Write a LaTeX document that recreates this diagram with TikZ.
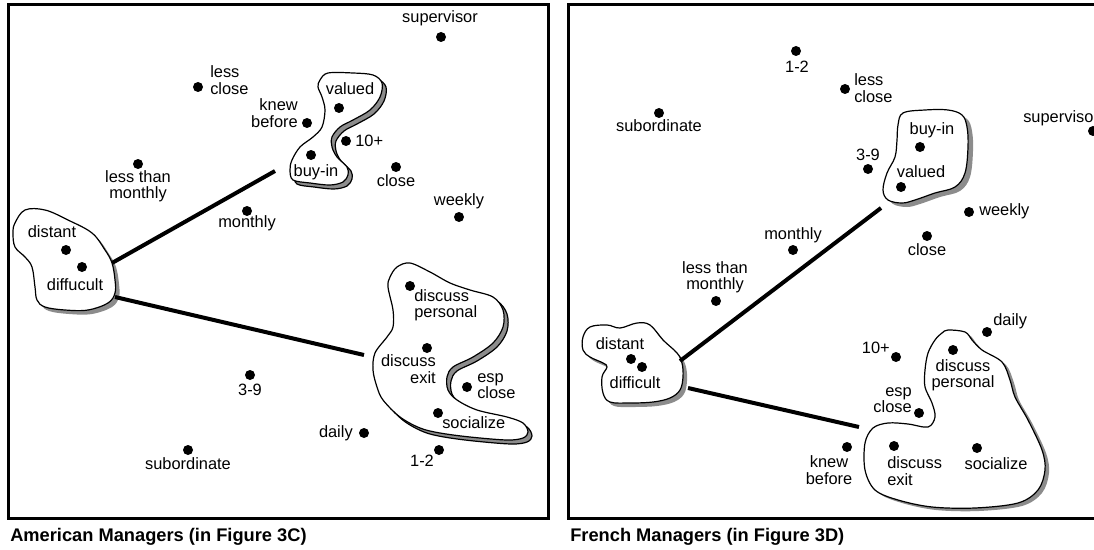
\documentclass[tikz,border=0pt]{standalone}
\usepackage{fontspec}
\setmainfont{Liberation Sans}
\newcommand\lab{\fontsize{12.3}{12.3}\selectfont}
\newcommand\capfont{\fontsize{13.7}{16}\selectfont\bfseries}
\tikzset{
  dot/.style={circle, fill=black, inner sep=0pt, minimum size=7.5pt},
  lbl/.style={font=\lab, inner sep=0pt},
  frame/.style={draw=black, line width=2.25pt},
  link/.style={draw=black, line width=3pt},
  blob/.style={fill=white, draw=black, line width=0.9pt},
  shadow/.style={fill=black!45},
  shadowedge/.style={fill=black!45, draw=black, line width=0.9pt},
  capt/.style={font=\capfont, inner sep=0pt, anchor=base west}
}
\newcommand\blobAdist{plot[smooth cycle, tension=0.6] coordinates {(15,223) (25,210) (45,210) (68,220) (92,233) (105,250) (112,263) (115,280) (115,293) (108,303) (88,310) (65,310) (45,307) (37,300) (35,287) (32,267) (25,257) (15,247) (13,233)}}
\newcommand\blobAbuy{plot[smooth cycle, tension=0.55] coordinates {(320,80) (328,73) (353,73) (373,75) (382,83) (380,97) (370,110) (353,120) (340,127) (332,137) (332,147) (337,157) (347,167) (348,175) (343,182) (330,185) (310,183) (293,180) (290,170) (292,160) (300,147) (313,137) (322,127) (325,110) (322,97) (318,87)}}
\newcommand\blobAdisc{plot[smooth cycle, tension=0.55] coordinates {(397,267) (410,263) (430,272) (450,283) (470,290) (493,297) (503,310) (503,327) (493,343) (473,357) (453,367) (447,377) (448,390) (457,400) (477,410) (507,417) (523,423) (528,432) (523,438) (507,440) (470,437) (440,433) (420,428) (400,417) (383,400) (377,387) (373,370) (375,353) (387,337) (393,327) (393,310) (388,287) (390,277)}}
\newcommand\blobBdist{plot[smooth cycle, tension=0.6] coordinates {(583,337) (590,327) (607,325) (620,328) (637,323) (650,325) (663,340) (677,353) (682,363) (683,377) (680,390) (670,398) (653,402) (630,403) (610,402) (603,393) (602,377) (607,367) (603,363) (590,357) (583,350)}}
\newcommand\blobBbuy{plot[smooth cycle, tension=0.6] coordinates {(898,125) (903,113) (925,110) (948,110) (962,115) (967,127) (968,147) (965,173) (955,187) (935,193) (915,200) (902,203) (888,200) (883,190) (887,173) (895,157) (897,140)}}
\newcommand\blobBdisc{plot[smooth cycle, tension=0.55] coordinates {(948,330) (965,332) (972,340) (982,350) (1002,362) (1010,380) (1015,397) (1028,420) (1042,450) (1045,470) (1038,490) (1018,503) (975,508) (932,507) (898,500) (875,490) (865,470) (865,443) (873,428) (888,423) (908,424) (928,427) (935,417) (932,403) (925,387) (925,370) (928,353) (935,340) (942,333)}}
\begin{document}
\begin{tikzpicture}[x=0.75pt, y=-0.75pt]
\useasboundingbox (0,0) rectangle (1094,549);
\clip (0,0) rectangle (1094,549);
% frames
\draw[frame] (8,5) rectangle (548,518);
\draw[frame] (568,5) rectangle (1110,518);
% left blobs
\fill[shadow, shift={(4,4)}] \blobAdist;
\draw[blob] \blobAdist;
\filldraw[shadowedge, shift={(4,4)}] \blobAbuy;
\draw[blob] \blobAbuy;
\filldraw[shadowedge, shift={(4,4)}] \blobAdisc;
\draw[blob] \blobAdisc;
% right blobs
\fill[shadow, shift={(4,4)}] \blobBdist;
\draw[blob] \blobBdist;
\fill[shadow, shift={(5,4)}] \blobBbuy;
\draw[blob] \blobBbuy;
\fill[shadow, shift={(4,3)}] \blobBdisc;
\draw[blob] \blobBdisc;
% connector endpoints
\coordinate (aL1s) at (112,263); \coordinate (aL1e) at (275,171);
\coordinate (aL2s) at (115,297); \coordinate (aL2e) at (364,355);
\coordinate (bL1s) at (680,361); \coordinate (bL1e) at (881,208);
\coordinate (bL2s) at (688,388); \coordinate (bL2e) at (859,427);
\draw[link] (aL1s) -- (aL1e);
\draw[link] (aL2s) -- (aL2e);
\draw[link] (bL1s) -- (bL1e);
\draw[link] (bL2s) -- (bL2e);
% left panel points
\node[dot] (asup) at (441,37) {};
\node[lbl] (asupl) at (440,18) {supervisor};
\node[dot] (alc) at (198,87) {};
\node[lbl, anchor=west, align=left] (alcl) at (210,80) {less\\close};
\node[dot] (akb) at (307,123) {};
\node[lbl, anchor=east, align=right] (akbl) at (298,113) {knew\\before};
\node[dot] (aval) at (339,108) {};
\node[lbl] (avall) at (350,89) {valued};
\node[dot] (aten) at (346,141) {};
\node[lbl, anchor=west] (atenl) at (355,141) {10+};
\node[dot] (abuy) at (311,155) {};
\node[lbl] (abuyl) at (316,172) {buy-in};
\node[dot] (aclose) at (396,167) {};
\node[lbl] (aclosel) at (396,181) {close};
\node[dot] (aweek) at (459,217) {};
\node[lbl] (aweekl) at (459,201) {weekly};
\node[dot] (altm) at (138,164) {};
\node[lbl, align=center] (altml) at (138,186) {less than\\monthly};
\node[dot] (amon) at (247,211) {};
\node[lbl] (amonl) at (247,223) {monthly};
\node[dot] (adist) at (66,250) {};
\node[lbl] (adistl) at (52,232) {distant};
\node[dot] (adiff) at (82,267) {};
\node[lbl] (adiffl) at (75,285) {diffucult};
\node[dot] (a39) at (250,375) {};
\node[lbl] (a39l) at (250,390) {3-9};
\node[dot] (asub) at (188,450) {};
\node[lbl] (asubl) at (188,464) {subordinate};
\node[dot] (adp) at (410,286) {};
\node[lbl, anchor=west, align=left] (adpl) at (414,305) {discuss\\personal};
\node[dot] (ade) at (427,348) {};
\node[lbl, anchor=east, align=right] (adel) at (436,369) {discuss\\exit};
\node[dot] (aec) at (467,387) {};
\node[lbl, anchor=west, align=left] (aecl) at (477,386) {esp\\close};
\node[dot] (asoc) at (438,413) {};
\node[lbl, anchor=west] (asocl) at (442,423) {socialize};
\node[dot] (adaily) at (364,433) {};
\node[lbl, anchor=east] (adailyl) at (353,433) {daily};
\node[dot] (a12) at (439,450) {};
\node[lbl] (a12l) at (422,461) {1-2};
% right panel points
\node[dot] (b12) at (796,51) {};
\node[lbl] (b12l) at (797,67) {1-2};
\node[dot] (bsub) at (659,113) {};
\node[lbl] (bsubl) at (659,126) {subordinate};
\node[dot] (bmon) at (793,250) {};
\node[lbl] (bmonl) at (793,235) {monthly};
\node[dot] (blc) at (845,89) {};
\node[lbl, anchor=west, align=left] (blcl) at (854,88) {less\\close};
\node[dot] (bsup) at (1093,131) {};
\node[lbl, anchor=west] (bsupl) at (1023,118) {supervisor};
\node[dot] (bbuy) at (920,147) {};
\node[lbl] (bbuyl) at (932,130) {buy-in};
\node[dot] (b39) at (868,169) {};
\node[lbl] (b39l) at (868,155) {3-9};
\node[dot] (bval) at (901,187) {};
\node[lbl] (bvall) at (921,172) {valued};
\node[dot] (bweek) at (969,212) {};
\node[lbl, anchor=west] (bweekl) at (979,211) {weekly};
\node[dot] (bclose) at (927,236) {};
\node[lbl] (bclosel) at (927,250) {close};
\node[dot] (bltm) at (716,301) {};
\node[lbl, align=center] (bltml) at (715,277) {less than\\monthly};
\node[dot] (bdist) at (631,359) {};
\node[lbl] (bdistl) at (620,344) {distant};
\node[dot] (bdiff) at (642,367) {};
\node[lbl] (bdiffl) at (635,383) {difficult};
\node[dot] (bten) at (896,357) {};
\node[lbl, anchor=east] (btenl) at (890,348) {10+};
\node[dot] (bdaily) at (987,332) {};
\node[lbl, anchor=west] (bdailyl) at (993,321) {daily};
\node[dot] (bdp) at (953,350) {};
\node[lbl, align=center] (bdpl) at (963,375) {discuss\\personal};
\node[dot] (bec) at (919,413) {};
\node[lbl, anchor=east, align=right] (becl) at (912,400) {esp\\close};
\node[dot] (bkb) at (847,447) {};
\node[lbl, align=center] (bkbl) at (829,470) {knew\\before};
\node[dot] (bde) at (894,446) {};
\node[lbl, anchor=west, align=left] (bdel) at (887,471) {discuss\\exit};
\node[dot] (bsoc) at (977,448) {};
\node[lbl] (bsocl) at (996,464) {socialize};
% captions
\node[capt] (capA) at (10,541) {American Managers (in Figure 3C)};
\node[capt] (capB) at (570,541) {French Managers (in Figure 3D)};
\end{tikzpicture}
\end{document}
